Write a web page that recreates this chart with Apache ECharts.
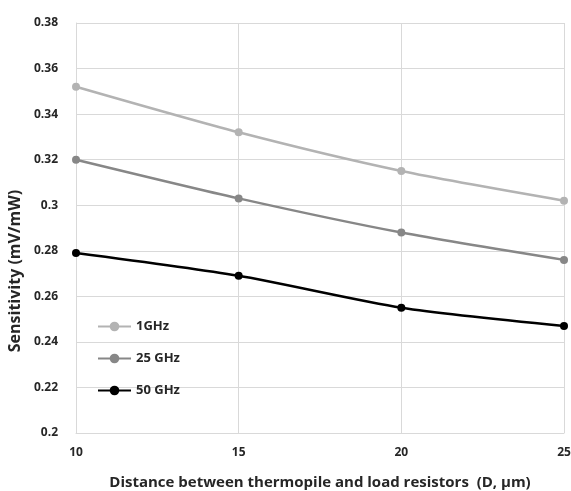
<!DOCTYPE html>
<html>
<head>
<meta charset="utf-8">
<script src="https://cdn.jsdelivr.net/npm/echarts@6/dist/echarts.min.js"></script>
<style>
  html, body { margin: 0; padding: 0; background: #fff; }
  #chart { width: 571px; height: 491px; }
</style>
</head>
<body>
<div id="chart"></div>
<script>
// distance D (um)
const distances = [10, 15, 20, 25];
const sens1GHz = [0.352, 0.332, 0.315, 0.302];
const sens25GHz = [0.320, 0.303, 0.288, 0.276];
const sens50GHz = [0.279, 0.269, 0.255, 0.247];
const seriesNames = ['1GHz', '25 GHz', '50 GHz'];

const fontFamily = '"Open Sans", "Liberation Sans", sans-serif';
const textColor = '#262626';
const gridColor = '#d9d9d9';

const toPairs = vals => distances.map((d, i) => [d, vals[i]]);

const makeSeries = (name, vals, color) => ({
  name: name,
  type: 'line',
  data: toPairs(vals),
  smooth: 0.25,
  symbol: 'circle',
  symbolSize: 8,
  itemStyle: { color: color },
  lineStyle: { color: color, width: 2.5 }
});

const chart = echarts.init(document.getElementById('chart'));
chart.setOption({
  backgroundColor: '#fff',
  animation: false,
  grid: { left: 76, right: 7, top: 23, bottom: 58, outerBoundsMode: 'none' },
  legend: {
    orient: 'vertical',
    left: 92,
    top: 315,
    itemGap: 19,
    itemWidth: 33,
    itemHeight: 12,
    data: seriesNames,
    textStyle: { color: textColor, fontFamily: fontFamily, fontWeight: 'bold', fontSize: 13 }
  },
  xAxis: {
    type: 'value',
    min: 10,
    max: 25,
    interval: 5,
    name: 'Distance between thermopile and load resistors  (D, \u00b5m)',
    nameLocation: 'middle',
    nameGap: 42,
    nameTextStyle: { color: textColor, fontFamily: fontFamily, fontWeight: 'bold', fontSize: 15 },
    axisLine: { show: true, lineStyle: { color: gridColor } },
    axisTick: { show: false },
    axisLabel: { color: textColor, fontFamily: fontFamily, fontWeight: 'bold', fontSize: 12, margin: 14 },
    splitLine: { show: true, lineStyle: { color: gridColor, width: 1 } }
  },
  yAxis: {
    type: 'value',
    min: 0.2,
    max: 0.38,
    interval: 0.02,
    name: 'Sensitivity (mV/mW)',
    nameLocation: 'middle',
    nameGap: 49,
    nameTextStyle: {
      color: textColor, fontFamily: fontFamily, fontWeight: 'bold', fontSize: 16,
      padding: [0, 86, 0, 0]
    },
    axisLine: { show: true, lineStyle: { color: gridColor } },
    axisTick: { show: false },
    axisLabel: {
      color: textColor, fontFamily: fontFamily, fontWeight: 'bold', fontSize: 12, margin: 18,
      formatter: v => String(parseFloat(v.toFixed(2)))
    },
    splitLine: { show: true, lineStyle: { color: gridColor, width: 1 } }
  },
  series: [
    makeSeries(seriesNames[0], sens1GHz, '#b3b3b3'),
    makeSeries(seriesNames[1], sens25GHz, '#878787'),
    makeSeries(seriesNames[2], sens50GHz, '#000000')
  ]
});
</script>
</body>
</html>
